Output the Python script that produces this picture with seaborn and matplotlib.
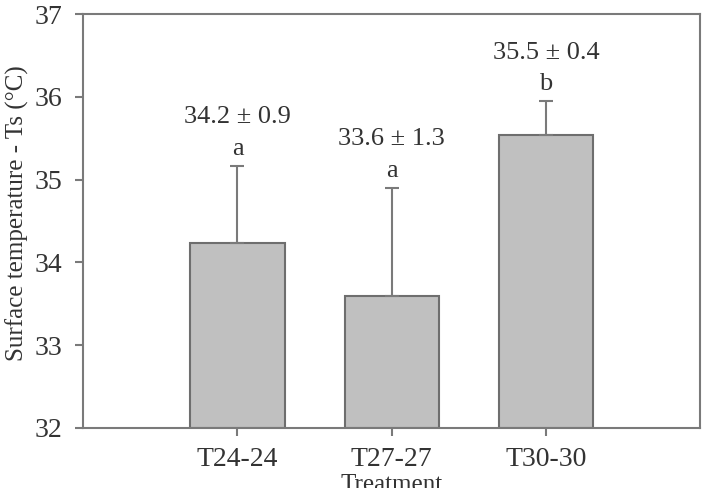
import matplotlib
matplotlib.use('Agg')
import matplotlib.pyplot as plt
import seaborn as sns
import pandas as pd

sns.set_style('white')
plt.rcParams['font.family'] = ['Liberation Serif', 'DejaVu Serif']

# data
treatments = ['T24-24', 'T27-27', 'T30-30']
means = [34.24, 33.60, 35.54]
sd = [0.93, 1.30, 0.41]
value_labels = ['34.2 ± 0.9', '33.6 ± 1.3', '35.5 ± 0.4']
letters = ['a', 'a', 'b']

df = pd.DataFrame({'Treatment': treatments, 'Ts': means})

fig = plt.figure(figsize=(7.11, 4.88), dpi=100)
ax = fig.add_axes([0.117, 0.123, 0.868, 0.848])

sns.barplot(data=df, x='Treatment', y='Ts', color='#c0c0c0', width=0.61,
            edgecolor='#6e6e6e', linewidth=1.5, saturation=1, ax=ax)
for p in ax.patches:
    p.set_y(32)
    p.set_height(p.get_height() - 32)

xs = list(range(len(treatments)))
ax.errorbar(xs, means, yerr=[[0] * 3, sd], fmt='none', ecolor='#7a7a7a',
            elinewidth=1.5, capsize=5, capthick=1.5, zorder=1)

# stats labels above the error bars
for x, m, s, v, l in zip(xs, means, sd, value_labels, letters):
    ax.annotate(l, (x, m + s), xytext=(0, 4), textcoords='offset points',
                ha='center', va='bottom', fontsize=19, color='#333333')
    ax.annotate(v, (x, m + s), xytext=(0, 27), textcoords='offset points',
                ha='center', va='bottom', fontsize=19, color='#333333')

ax.set_ylim(32, 37)
ax.set_xlim(-1, 3)
ax.set_yticks([32, 33, 34, 35, 36, 37])
ax.set_ylabel('Surface temperature - Ts (°C)', fontsize=18, color='#333333')
ax.yaxis.set_label_coords(-0.088, 0.52)
ax.set_xlabel('Treatment', fontsize=18, color='#333333', labelpad=1)
ax.tick_params(axis='both', direction='out', length=6, width=1.5, color='#7a7a7a',
               labelsize=20, labelcolor='#333333', bottom=True, left=True)
ax.tick_params(axis='y', pad=9)
ax.tick_params(axis='x', pad=8)
for sp in ax.spines.values():
    sp.set_color('#7a7a7a')
    sp.set_linewidth(1.5)

fig.savefig('out.png', dpi=100)
